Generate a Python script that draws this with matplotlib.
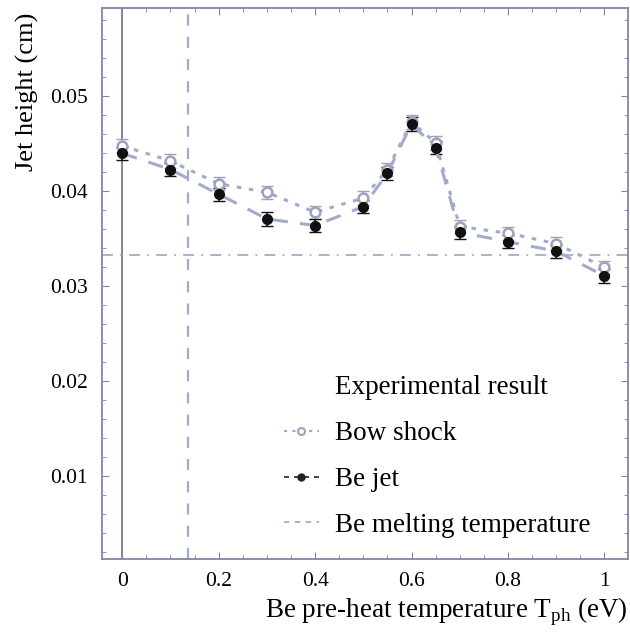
import matplotlib.pyplot as plt
from matplotlib.ticker import MultipleLocator
from matplotlib.lines import Line2D

plt.rcParams['font.family'] = ['Liberation Serif', 'DejaVu Serif']
plt.rcParams['mathtext.fontset'] = 'custom'
plt.rcParams['mathtext.rm'] = 'Liberation Serif'

# pre-heat temperatures (eV)
t_ph = [0.0, 0.1, 0.2, 0.3, 0.4, 0.5, 0.55, 0.6, 0.65, 0.7, 0.8, 0.9, 1.0]
bow_shock = [0.0448, 0.0432, 0.0408, 0.0399, 0.0378, 0.0393, 0.0423,
             0.0473, 0.0451, 0.0363, 0.0356, 0.0345, 0.0320]
be_jet = [0.0440, 0.0423, 0.0397, 0.0371, 0.0364, 0.0384, 0.0419,
          0.0471, 0.0446, 0.0357, 0.0347, 0.0337, 0.0311]
err_bow = 0.0007
err_jet = 0.0007

t_melt = 0.137
h_ref = 0.0333

spine_col = '#7f86a6'
line_col = '#a3abcc'
open_col = '#9ea3bd'

fig = plt.figure(figsize=(6.30, 6.36), dpi=100)
ax = fig.add_axes([102 / 630, 1 - 559 / 636, 526 / 630, 551 / 636])

ax.axvline(0, color='#7a7d90', lw=1.3, zorder=1)
ax.axvline(t_melt, color=line_col, lw=1.6, ls=(0, (5, 5)), zorder=1)
ax.axhline(h_ref, color=line_col, lw=1.3, ls=(0, (6, 4, 1, 4)), zorder=1)

ax.errorbar(t_ph, bow_shock, yerr=err_bow, fmt='none', ecolor=open_col,
            elinewidth=1.2, capsize=4, zorder=2)
ax.plot(t_ph, bow_shock, ls=(0, (1.5, 2.5)), color=line_col, lw=2.2, zorder=2)
ax.plot(t_ph, bow_shock, 'o', ls='none', mfc='white', mec=open_col,
        mew=1.8, ms=7, zorder=4)

ax.errorbar(t_ph, be_jet, yerr=err_jet, fmt='none', ecolor='#111111',
            elinewidth=1.2, capsize=4, zorder=3)
ax.plot(t_ph, be_jet, ls=(0, (5, 4)), color=line_col, lw=2.2, zorder=3)
ax.plot(t_ph, be_jet, 'o', ls='none', color='#111111', ms=7, zorder=5)

ax.set_xlim(-0.042, 1.049)
ax.set_ylim(0.0013, 0.0593)
ax.xaxis.set_minor_locator(MultipleLocator(0.05))
ax.yaxis.set_minor_locator(MultipleLocator(0.002))
ax.set_xticks([0, 0.2, 0.4, 0.6, 0.8, 1.0])
ax.set_xticklabels(['0', '0.2', '0.4', '0.6', '0.8', '1'])
ax.set_yticks([0.01, 0.02, 0.03, 0.04, 0.05])
ax.set_yticklabels(['0.01', '0.02', '0.03', '0.04', '0.05'])
ax.tick_params(which='both', direction='in', top=True, right=True,
               color=spine_col, labelsize=15.5)
ax.tick_params(axis='y', pad=10)
ax.tick_params(axis='x', pad=9)
ax.tick_params(which='major', length=5)
ax.tick_params(which='minor', length=3)
for s in ax.spines.values():
    s.set_color(spine_col)
    s.set_linewidth(1.3)

ax.set_xlabel(r'Be pre-heat temperature T$_{\mathrm{ph}}$ (eV)', fontsize=19.5,
              loc='right', labelpad=4)
ax.set_ylabel('Jet height (cm)', fontsize=19)
ax.yaxis.set_label_coords(-0.12, 0.848)

# legend: blank first row acts as the heading, aligned with the labels
h_head = Line2D([], [], ls='none')
h_bow = Line2D([], [], marker='o', ls=(0, (1.5, 2.5)), color=line_col,
               mfc='white', mec=open_col, mew=1.5, ms=5)
h_jet = Line2D([], [], marker='o', ls=(0, (3, 3)), color='#222222', ms=5,
               lw=1.2)
h_melt = Line2D([], [], ls=(0, (3, 3)), color=line_col, lw=1.3)
ax.legend([h_head, h_bow, h_jet, h_melt],
          ['Experimental result', 'Bow shock', 'Be jet',
           'Be melting temperature'],
          frameon=False, fontsize=19.5, loc='lower left',
          bbox_to_anchor=(0.299, -0.006), handlelength=1.3,
          handletextpad=0.6, labelspacing=0.77)

fig.savefig('out.png', dpi=100, facecolor='white')
